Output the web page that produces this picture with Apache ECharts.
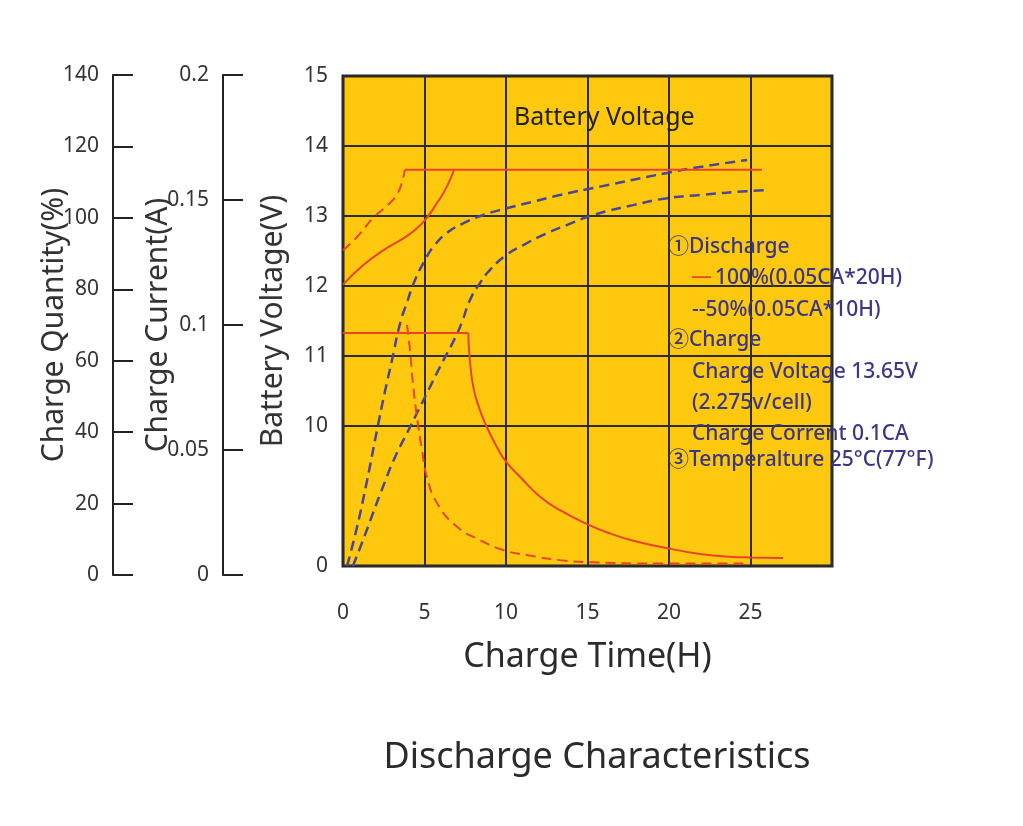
<!DOCTYPE html>
<html>
<head>
<meta charset="utf-8">
<title>Discharge Characteristics</title>
<script src="https://cdn.jsdelivr.net/npm/echarts@6.0.0/dist/echarts.min.js"></script>
<style>
    html, body { margin: 0; padding: 0; background: #fff; }
    #chart { width: 1023px; height: 826px; }
</style>
</head>
<body>
<div id="chart"></div>
<script>
// x values are charge time (H)
var timeTicks = [0, 5, 10, 15, 20, 25];
var voltTicks = [8, 10, 11, 12, 13, 14, 15]; // 8 is drawn as "0" (broken axis)

// battery voltage (V)
var volt100 = [[0, 12.02], [1.25, 12.3], [2.47, 12.51], [3.7, 12.68], [4.52, 12.82], [5.13, 12.97], [5.75, 13.18], [6.26, 13.37], [6.77, 13.63], [6.8, 13.66]];
var volt50 = [[0, 12.51], [0.86, 12.7], [1.84, 12.97], [2.76, 13.16], [3.37, 13.33], [3.68, 13.54], [3.8, 13.66]];
var chargeVolt = [[3.8, 13.66], [25.7, 13.66]];

// charge current (A)
var currentFlat = [[0, 0.0951], [7.69, 0.0951]];
var current100 = [[7.69, 0.0951], [7.75, 0.0868], [7.99, 0.0732], [8.4, 0.0636], [8.82, 0.0568], [9.43, 0.0487], [10.0, 0.0426], [10.86, 0.0364], [12.09, 0.0283], [13.31, 0.0228], [15.11, 0.0167], [16.38, 0.0133], [17.81, 0.0103], [19.45, 0.0079], [21.9, 0.0049], [23.93, 0.0037], [24.97, 0.0035], [26.99, 0.0033]];
var current50 = [[3.93, 0.0984], [4.11, 0.0881], [4.29, 0.0747], [4.54, 0.0608], [4.85, 0.0473], [5.15, 0.0363], [5.77, 0.0257], [7.0, 0.016], [8.4, 0.0106], [9.83, 0.0065], [11.27, 0.0045], [13.31, 0.0024], [15.34, 0.0015], [19.45, 0.001], [24.8, 0.001]];

// charge quantity (%)
var quantity50 = [[0.25, 0], [0.86, 11.1], [1.47, 24.3], [2.09, 38.9], [2.58, 50], [3.01, 58.9], [3.5, 69.3], [3.91, 75.1], [4.42, 81.7], [5.03, 87.4], [5.54, 91.2], [6.36, 95.1], [7.38, 97.9], [8.61, 100.3], [10.04, 102.2], [11.67, 104.1], [13.31, 106], [15.77, 108.4], [19.88, 112.3], [21.9, 114], [24.79, 116]];
var quantity100 = [[0.61, 0], [1.23, 7.4], [1.84, 15.1], [2.45, 22.6], [3.19, 31.1], [3.93, 38], [4.54, 43.7], [5.15, 49.4], [5.95, 56.9], [6.87, 65.1], [7.3, 69.7], [7.79, 76], [8.4, 80.8], [9.02, 84.6], [10.04, 88.9], [11.06, 91.7], [12.29, 94.6], [13.72, 97.4], [15.36, 100.3], [17.79, 103.1], [19.88, 105.1], [21.9, 106], [24.79, 107.1], [25.95, 107.4]];

var notes = [
    { text: '①Discharge', x: 668, y: 247 },
    { text: '100%(0.05CA*20H)', x: 715, y: 278 },
    { text: '--50%(0.05CA*10H)', x: 692, y: 310 },
    { text: '②Charge', x: 668, y: 340 },
    { text: 'Charge Voltage 13.65V', x: 692, y: 372 },
    { text: '(2.275v/cell)', x: 692, y: 403 },
    { text: 'Charge Corrent 0.1CA', x: 692, y: 434 },
    { text: '③Temperalture 25°C(77°F)', x: 668, y: 460 }
];

var RED = '#E8432B';
var BLUE = '#4A4694';
var INK = '#333';
var FONT = "'Noto Sans', 'Noto Sans CJK SC', sans-serif";

function sideAxis(gridIndex, max, interval, name, nameGap) {
    return {
        type: 'value', gridIndex: gridIndex, position: 'left',
        min: 0, max: max, interval: interval,
        name: name, nameLocation: 'middle', nameGap: nameGap, nameMoveOverlap: false,
        nameTextStyle: { fontSize: 30, color: INK, fontFamily: FONT },
        axisLine: { show: true, lineStyle: { color: '#222', width: 2 } },
        axisTick: { show: true, inside: true, length: 20, lineStyle: { color: '#222', width: 2 } },
        axisLabel: { margin: 14, fontSize: 21, color: INK, fontFamily: FONT },
        splitLine: { show: false }
    };
}

function lineSeries(data, yAxisIndex, color, width, dashed, smooth) {
    return {
        type: 'line', xAxisIndex: 0, yAxisIndex: yAxisIndex,
        data: data, smooth: smooth ? 0.5 : false,
        showSymbol: false, symbol: 'none',
        lineStyle: { color: color, width: width, type: dashed ? [10, 6] : 'solid' },
        silent: true
    };
}

var echart = echarts.init(document.getElementById('chart'));

var graphics = notes.map(function (n) {
    return {
        type: 'text', x: n.x, y: n.y, z: 100,
        style: { text: n.text, fill: '#3A3688', fontSize: 21, fontWeight: 500, fontFamily: FONT, verticalAlign: 'middle' }
    };
});
graphics.push({ type: 'text', x: 691, y: 277, z: 100, style: { text: '—', fill: RED, fontSize: 21, fontFamily: FONT, verticalAlign: 'middle' } });
graphics.push({ type: 'text', x: 514, y: 118, z: 100, style: { text: 'Battery Voltage', fill: '#222', fontSize: 25, fontFamily: FONT, verticalAlign: 'middle' } });
graphics.push({ type: 'text', x: 597, y: 758, z: 100, style: { text: 'Discharge Characteristics', fill: '#2b2b2b', fontSize: 36, fontFamily: FONT, align: 'center', verticalAlign: 'middle' } });

var option = {
    backgroundColor: '#fff',
    animation: false,
    textStyle: { fontFamily: FONT },
    grid: [
        { left: 343, top: 76, right: 191, bottom: 260, show: true, backgroundColor: '#FDC80E', borderColor: '#222', borderWidth: 3 },
        { left: 113, top: 75, width: 30, height: 500 },
        { left: 223, top: 75, width: 30, height: 500 }
    ],
    xAxis: [
        {
            type: 'value', gridIndex: 0, min: 0, max: 30, interval: 5,
            name: 'Charge Time(H)', nameLocation: 'middle', nameGap: 74, nameMoveOverlap: false,
            nameTextStyle: { fontSize: 34, color: '#2b2b2b', fontFamily: FONT },
            axisLine: { show: false }, axisTick: { show: false },
            axisLabel: {
                margin: 37, fontSize: 21, color: INK, fontFamily: FONT,
                customValues: timeTicks
            },
            splitLine: { show: true, lineStyle: { color: '#2b2b2b', width: 2 } }
        },
        { type: 'value', gridIndex: 1, show: false },
        { type: 'value', gridIndex: 2, show: false }
    ],
    yAxis: [
        {
            type: 'value', gridIndex: 0, min: 8, max: 15, interval: 1,
            name: 'Battery Voltage(V)', nameLocation: 'middle', nameGap: 55, nameMoveOverlap: false,
            nameTextStyle: { fontSize: 30, color: INK, fontFamily: FONT },
            axisLine: { show: false },
            axisTick: { show: false, customValues: voltTicks },
            axisLabel: {
                margin: 15, fontSize: 21, color: INK, fontFamily: FONT,
                customValues: voltTicks,
                formatter: function (v) { return v === 8 ? '0' : String(v); }
            },
            splitLine: { show: true, lineStyle: { color: '#2b2b2b', width: 2 } }
        },
        { type: 'value', gridIndex: 0, min: 0, max: 0.2, show: false },
        { type: 'value', gridIndex: 0, min: 0, max: 140, show: false },
        sideAxis(1, 140, 20, 'Charge Quantity(%)', 44),
        sideAxis(2, 0.2, 0.05, 'Charge Current(A)', 50)
    ],
    series: [
        lineSeries(quantity50, 2, BLUE, 2.5, true, true),
        lineSeries(quantity100, 2, BLUE, 2.5, true, true),
        lineSeries(currentFlat, 1, RED, 2, false, false),
        lineSeries(current100, 1, RED, 2, false, true),
        lineSeries(current50, 1, RED, 2, true, true),
        lineSeries(volt100, 0, RED, 2, false, true),
        lineSeries(volt50, 0, RED, 2, true, true),
        lineSeries(chargeVolt, 0, RED, 2, false, false)
    ],
    graphic: graphics
};
echart.setOption(option);
</script>
</body>
</html>
